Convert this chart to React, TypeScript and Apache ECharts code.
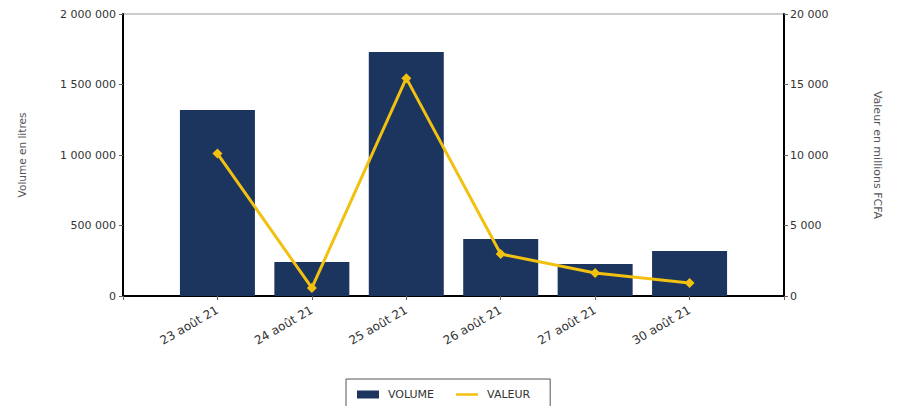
import React, { useEffect, useRef } from "react";
import * as echarts from "echarts";

const categories = ["23 août 21", "24 août 21", "25 août 21", "26 août 21", "27 août 21", "30 août 21"];
const volumes = [1320000, 241000, 1730000, 404000, 227000, 319000];
const valeurs = [10100, 570, 15450, 2980, 1630, 920];
const leftTicks = { min: 0, max: 2000000, interval: 500000 };
const rightTicks = { min: 0, max: 20000, interval: 5000 };

const fmt = (v: number) => String(Math.round(v)).replace(/\B(?=(\d{3})+(?!\d))/g, " ");

export default function App() {
  const ref = useRef<HTMLDivElement>(null);
  useEffect(() => {
    if (!ref.current) return;
    const chart = echarts.init(ref.current, null, { renderer: "svg" });
    const font = "DejaVu Sans";
    chart.setOption({
      animation: false,
      textStyle: { fontFamily: font },
      grid: { left: 112, right: 116, top: 6, bottom: 110, show: true, borderColor: "#999", borderWidth: 1 },
      legend: {
        left: 338,
        top: 371,
        padding: [10, 20, 10, 11],
        itemGap: 22,
        itemWidth: 22,
        itemHeight: 8,
        borderColor: "#555",
        borderWidth: 1,
        textStyle: { fontSize: 11, color: "#333", fontFamily: font, padding: [0, 0, 0, 4] },
        data: [
          { name: "VOLUME", icon: "rect" },
          { name: "VALEUR", icon: "path://M0,3h22v2.5h-22z" },
        ],
      },
      xAxis: {
        type: "category",
        boundaryGap: false,
        data: ["", ...categories, ""],
        axisLine: { lineStyle: { color: "#000", width: 2 } },
        axisTick: { show: true, interval: 0, length: 4, lineStyle: { color: "#666", width: 1 } },
        axisLabel: { rotate: 30, interval: 0, fontSize: 12, color: "#333", margin: 13 },
      },
      yAxis: [
        {
          type: "value",
          ...leftTicks,
          name: "Volume en litres",
          nameLocation: "middle",
          nameGap: 96,
          nameTextStyle: { fontSize: 10.5, color: "#555" },
          axisLine: { show: true, lineStyle: { color: "#000", width: 2 } },
          axisTick: { show: true, length: 4, lineStyle: { color: "#666" } },
          splitLine: { show: false },
          axisLabel: { formatter: fmt, fontSize: 11, color: "#333", margin: 7 },
        },
        {
          type: "value",
          ...rightTicks,
          name: "Valeur en millions FCFA",
          nameLocation: "middle",
          nameRotate: -90,
          nameGap: 88,
          nameTextStyle: { fontSize: 11, color: "#555" },
          axisLine: { show: true, lineStyle: { color: "#000", width: 2 } },
          axisTick: { show: true, length: 4, lineStyle: { color: "#666" } },
          splitLine: { show: false },
          axisLabel: { formatter: fmt, fontSize: 11, color: "#333", margin: 6 },
        },
      ],
      series: [
        {
          name: "VOLUME",
          type: "bar",
          yAxisIndex: 0,
          barWidth: 75,
          itemStyle: { color: "#1b355f" },
          data: ["-", ...volumes, "-"],
        },
        {
          name: "VALEUR",
          type: "line",
          yAxisIndex: 1,
          symbol: "diamond",
          symbolSize: 10,
          lineStyle: { color: "#f2c00f", width: 3 },
          itemStyle: { color: "#f2c00f" },
          data: ["-", ...valeurs, "-"],
        },
      ],
    });
    return () => chart.dispose();
  }, []);
  return <div ref={ref} style={{ width: 892, height: 398 }} />;
}
